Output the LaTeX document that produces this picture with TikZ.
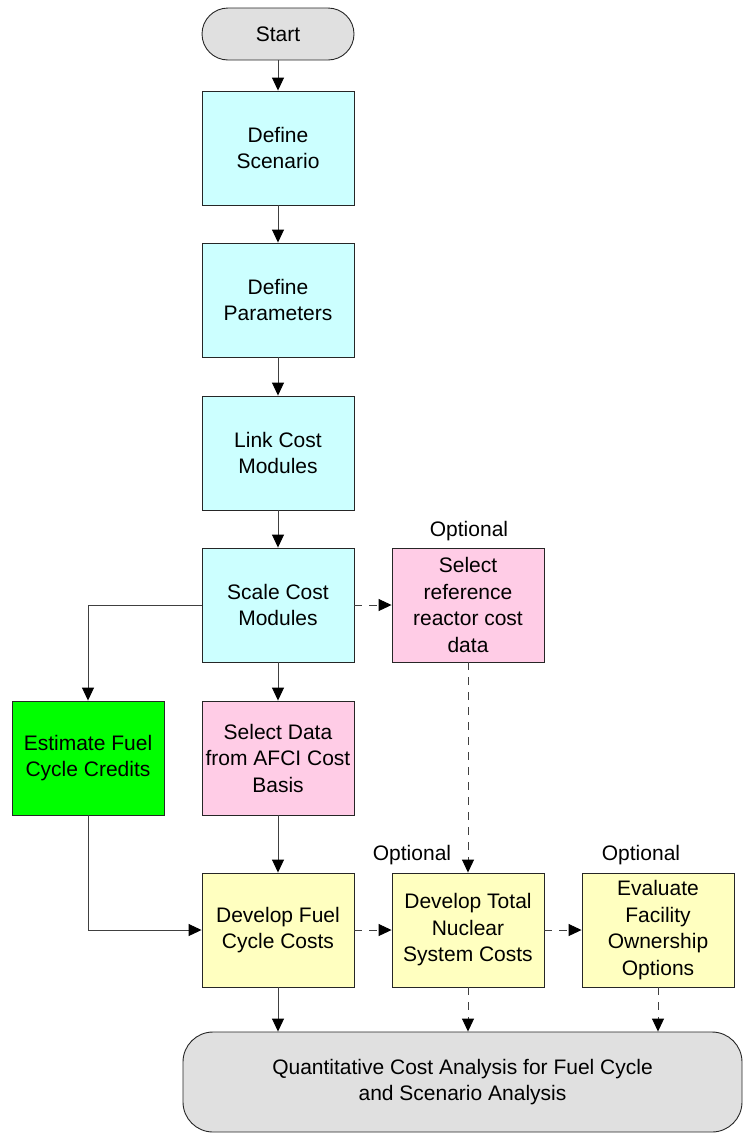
\documentclass[tikz,border=0pt]{standalone}
\usepackage{fontspec}
\setmainfont{Liberation Sans}
\usetikzlibrary{arrows.meta}
\definecolor{cgray}{HTML}{E0E0E0}
\definecolor{ccyan}{HTML}{CCFFFF}
\definecolor{cpink}{HTML}{FFCCE6}
\definecolor{cgreen}{HTML}{00FF00}
\definecolor{cyellow}{HTML}{FFFFC0}
\begin{document}
\begin{tikzpicture}[x=1pt,y=-1pt,
  every node/.style={font=\fontsize{21pt}{26.5pt}\selectfont, align=center, inner sep=0pt},
  box/.style={draw=black!85, line width=0.9pt, minimum width=152pt, minimum height=114pt},
  lbl/.style={font=\fontsize{21pt}{26.5pt}\selectfont},
  conn/.style={draw=black!75, line width=0.9pt, -{Triangle[length=13pt,width=12pt,color=black]}},
  dconn/.style={conn, dash pattern=on 8pt off 7pt}]
\useasboundingbox (0,0) rectangle (743,1133);
\node[box, fill=cgray, rounded corners=26pt, minimum height=52pt] (start) at (278,34) {Start};
\node[box, fill=ccyan] (scen) at (278,148) {Define\\Scenario};
\node[box, fill=ccyan] (param) at (278,300) {Define\\Parameters};
\node[box, fill=ccyan] (link) at (278,453) {Link Cost\\Modules};
\node[box, fill=ccyan] (scale) at (278,605) {Scale Cost\\Modules};
\node[box, fill=cpink] (ref) at (468,605) {Select\\reference\\reactor cost\\data};
\node[box, fill=cgreen] (est) at (88,758) {Estimate Fuel\\Cycle Credits};
\node[box, fill=cpink] (afci) at (278,758) {Select Data\\from AFCI Cost\\Basis};
\node[box, fill=cyellow] (fuel) at (278,930) {Develop Fuel\\Cycle Costs};
\node[box, fill=cyellow] (total) at (468,930) {Develop Total\\Nuclear\\System Costs};
\node[box, fill=cyellow] (own) at (658,930) {Evaluate\\Facility\\Ownership\\Options};
\node[box, fill=cgray, rounded corners=30pt, minimum width=559pt, minimum height=100pt] (quant) at (462.5,1082) {Quantitative Cost Analysis for Fuel Cycle\\and Scenario Analysis};
\node[lbl] (opt1) at (469,531) {Optional};
\node[lbl] (opt2) at (412,855) {Optional};
\node[lbl] (opt3) at (641,855) {Optional};
\draw[conn] (start) -- (scen);
\draw[conn] (scen) -- (param);
\draw[conn] (param) -- (link);
\draw[conn] (link) -- (scale);
\draw[conn] (scale) -- (afci);
\draw[conn] (afci) -- (fuel);
\draw[conn] (scale.west) -| (est.north);
\draw[conn] (est.south) |- (fuel.west);
\draw[dconn] (scale) -- (ref);
\draw[dconn] (ref) -- (total);
\draw[dconn] (fuel) -- (total);
\draw[dconn] (total) -- (own);
\draw[conn] (fuel.south) -- (fuel.south |- quant.north);
\draw[dconn] (total.south) -- (total.south |- quant.north);
\draw[dconn] (own.south) -- (own.south |- quant.north);
\end{tikzpicture}
\end{document}
